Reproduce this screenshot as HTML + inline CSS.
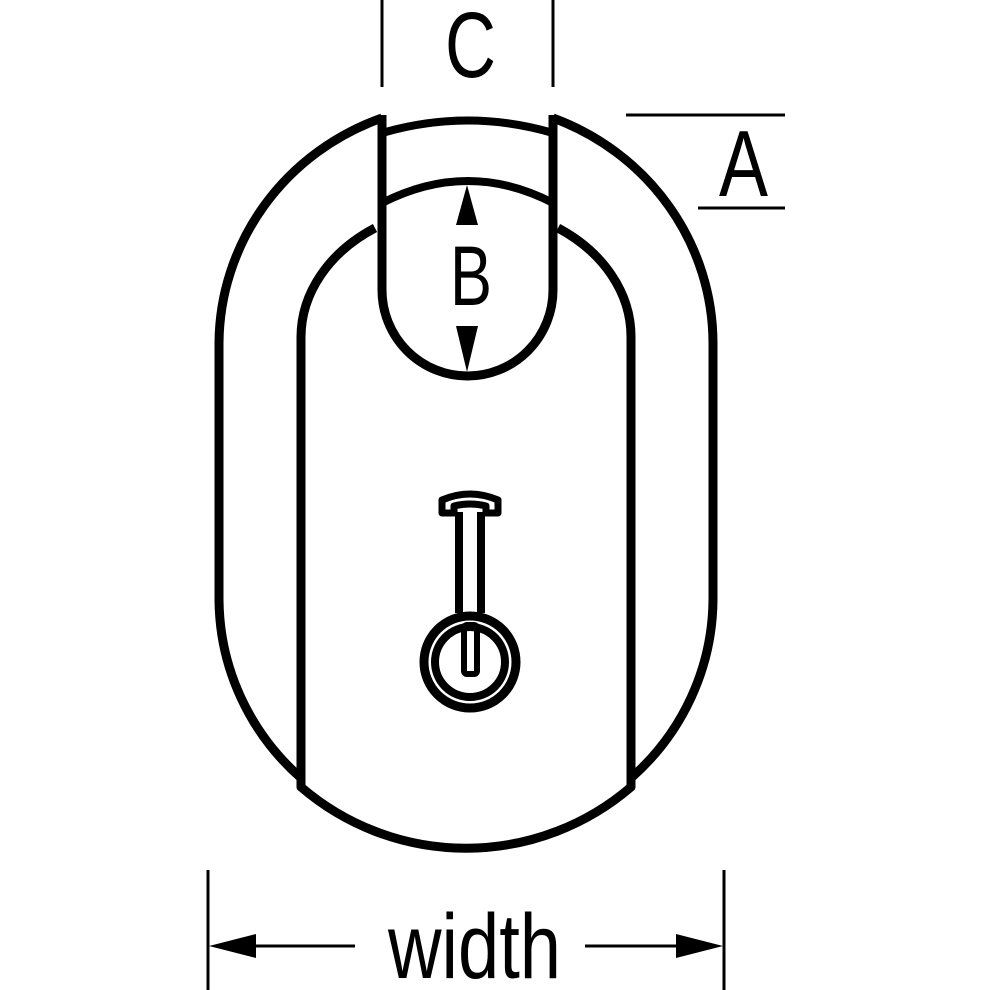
<!DOCTYPE html>
<html><head><meta charset="utf-8"><style>
html,body{margin:0;padding:0;background:#fff;width:990px;height:990px;overflow:hidden}
svg{display:block}
text{font-family:"Liberation Sans Narrow","Liberation Sans",sans-serif;fill:#000}
</style></head><body>
<svg width="990" height="990" viewBox="0 0 990 990" xmlns="http://www.w3.org/2000/svg">
<g fill="none" stroke="#000" stroke-width="9" stroke-linejoin="round">
  <path d="M382,118 A247,241 0 0 0 219,343 L219,600 A247,242 0 0 0 301,778"/>
  <path d="M553,118 A247,241 0 0 1 713,343 L713,600 A247,242 0 0 1 631,778"/>
  <path d="M375,228 A165,131 0 0 0 301,337 L301,787 A253,253 0 0 0 631,787 L631,337 A165,131 0 0 0 558,228"/>
  <path d="M382,115 L382,290 A85.5,86 0 0 0 553,290 L553,115" fill="#fff"/>
  <path d="M382,133 Q468,108 553,133" stroke-width="8"/>
  <path d="M382,203 Q468,159 553,203" stroke-width="8"/>
  <path d="M442,513 L442,500 Q470,488 498,500 L498,513 L486,513 L486,506 Q470,502 454,506 L454,513 Z" stroke-width="7" fill="#fff"/>
  <path d="M459,512 L459,613 M481,512 L481,613" stroke-width="8"/>
  <circle cx="470" cy="662" r="46" stroke-width="9" fill="#fff"/>
  <circle cx="470" cy="662" r="35" stroke-width="8"/>
  <rect x="464" y="625" width="13" height="49" rx="3" stroke-width="6"/>
</g>
<polygon points="467,185 456,225 478,225" fill="#000"/>
<polygon points="467,372 456,326 478,326" fill="#000"/>
<text x="450" y="305" font-size="84" textLength="42" lengthAdjust="spacingAndGlyphs">B</text>
<g stroke="#000" stroke-width="3">
  <line x1="382" y1="0" x2="382" y2="87"/>
  <line x1="553" y1="0" x2="553" y2="87"/>
  <line x1="626" y1="115" x2="785" y2="115"/>
  <line x1="698" y1="208" x2="785" y2="208"/>
  <line x1="208" y1="870" x2="208" y2="990"/>
  <line x1="724" y1="870" x2="724" y2="990"/>
  <line x1="225" y1="946" x2="355" y2="946"/>
  <line x1="585" y1="946" x2="705" y2="946"/>
</g>
<polygon points="209,946 256,934 256,958" fill="#000"/>
<polygon points="723,946 676,934 676,958" fill="#000"/>
<text x="445" y="77" font-size="93" textLength="51" lengthAdjust="spacingAndGlyphs">C</text>
<text x="719" y="196" font-size="94" textLength="49" lengthAdjust="spacingAndGlyphs">A</text>
<text x="388" y="978" font-size="92" textLength="173" lengthAdjust="spacingAndGlyphs">width</text>
</svg>
</body></html>
